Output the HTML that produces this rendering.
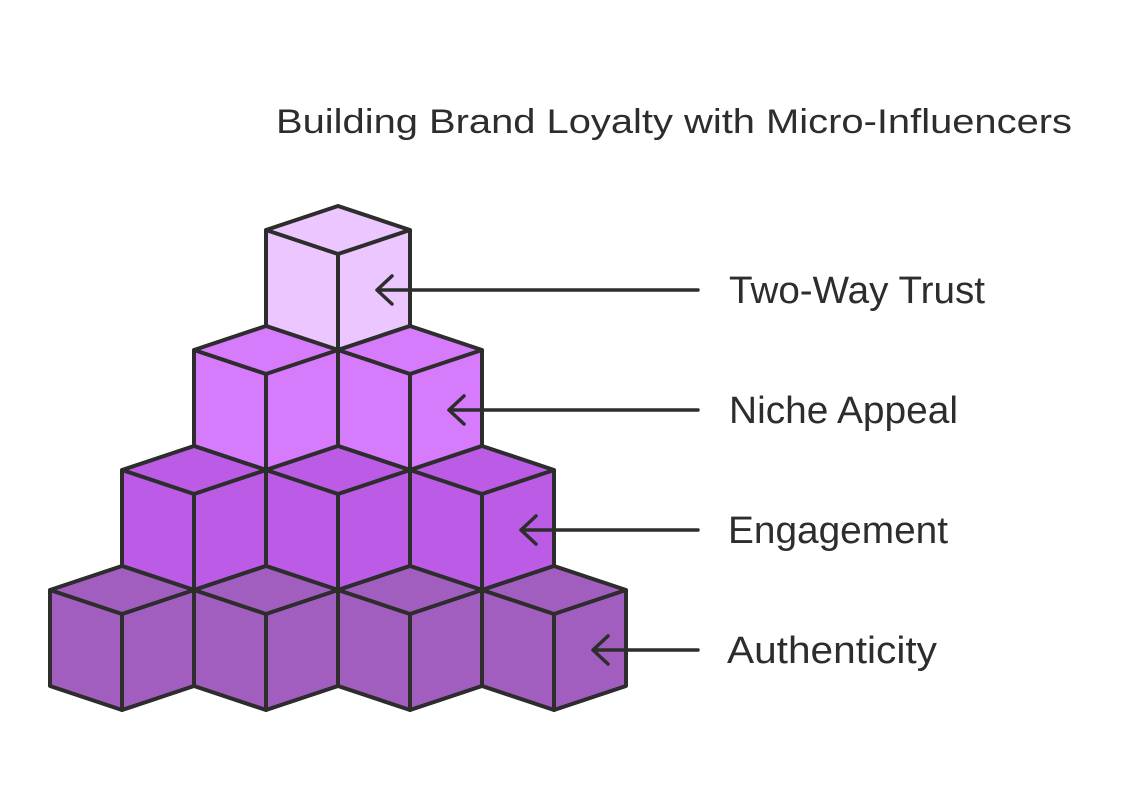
<!DOCTYPE html>
<html>
<head>
<meta charset="utf-8">
<style>
  html, body { margin: 0; padding: 0; background: #ffffff; }
  body { width: 1132px; height: 808px; overflow: hidden; }
  svg { display: block; }
  text { font-family: "Liberation Sans", "DejaVu Sans", sans-serif; fill: #2d2d2d; }
</style>
</head>
<body>
<svg width="1132" height="808" viewBox="0 0 1132 808" xmlns="http://www.w3.org/2000/svg">
  <defs>
    <g id="cube">
      <path d="M0,0 L72,24 L72,120 L0,144 L-72,120 L-72,24 Z" stroke="#2d2d2d" stroke-width="4" stroke-linejoin="round"/>
      <path d="M-72,24 L0,48 L72,24 M0,48 L0,144" fill="none" stroke="#2d2d2d" stroke-width="4" stroke-linejoin="round" stroke-linecap="round"/>
    </g>
  </defs>

  <!-- Title -->
  <text x="276" y="133" font-size="34" textLength="796" lengthAdjust="spacingAndGlyphs">Building Brand Loyalty with Micro-Influencers</text>

  <!-- Row 1 (top) -->
  <use href="#cube" x="338" y="206" fill="#ecc6ff"/>

  <!-- Row 2 -->
  <use href="#cube" x="266" y="326" fill="#d77bfd"/>
  <use href="#cube" x="410" y="326" fill="#d77bfd"/>

  <!-- Row 3 -->
  <use href="#cube" x="194" y="446" fill="#bc5ce6"/>
  <use href="#cube" x="338" y="446" fill="#bc5ce6"/>
  <use href="#cube" x="482" y="446" fill="#bc5ce6"/>

  <!-- Row 4 -->
  <use href="#cube" x="122" y="566" fill="#a15ebf"/>
  <use href="#cube" x="266" y="566" fill="#a15ebf"/>
  <use href="#cube" x="410" y="566" fill="#a15ebf"/>
  <use href="#cube" x="554" y="566" fill="#a15ebf"/>

  <!-- Arrows -->
  <g fill="none" stroke="#2d2d2d" stroke-width="3.5" stroke-linecap="round" stroke-linejoin="round">
    <path d="M698,290 L377,290 M392,276 L377,290 L392,304"/>
    <path d="M698,410 L449,410 M464,396 L449,410 L464,424"/>
    <path d="M698,530 L521,530 M536,516 L521,530 L536,544"/>
    <path d="M698,650 L593,650 M608,636 L593,650 L608,664"/>
  </g>

  <!-- Labels -->
  <text x="729" y="303" font-size="38" textLength="256" lengthAdjust="spacingAndGlyphs">Two-Way Trust</text>
  <text x="729" y="423" font-size="38" textLength="229" lengthAdjust="spacingAndGlyphs">Niche Appeal</text>
  <text x="728" y="543" font-size="38" textLength="220" lengthAdjust="spacingAndGlyphs">Engagement</text>
  <text x="727" y="663" font-size="38" textLength="210" lengthAdjust="spacingAndGlyphs">Authenticity</text>
</svg>
</body>
</html>
